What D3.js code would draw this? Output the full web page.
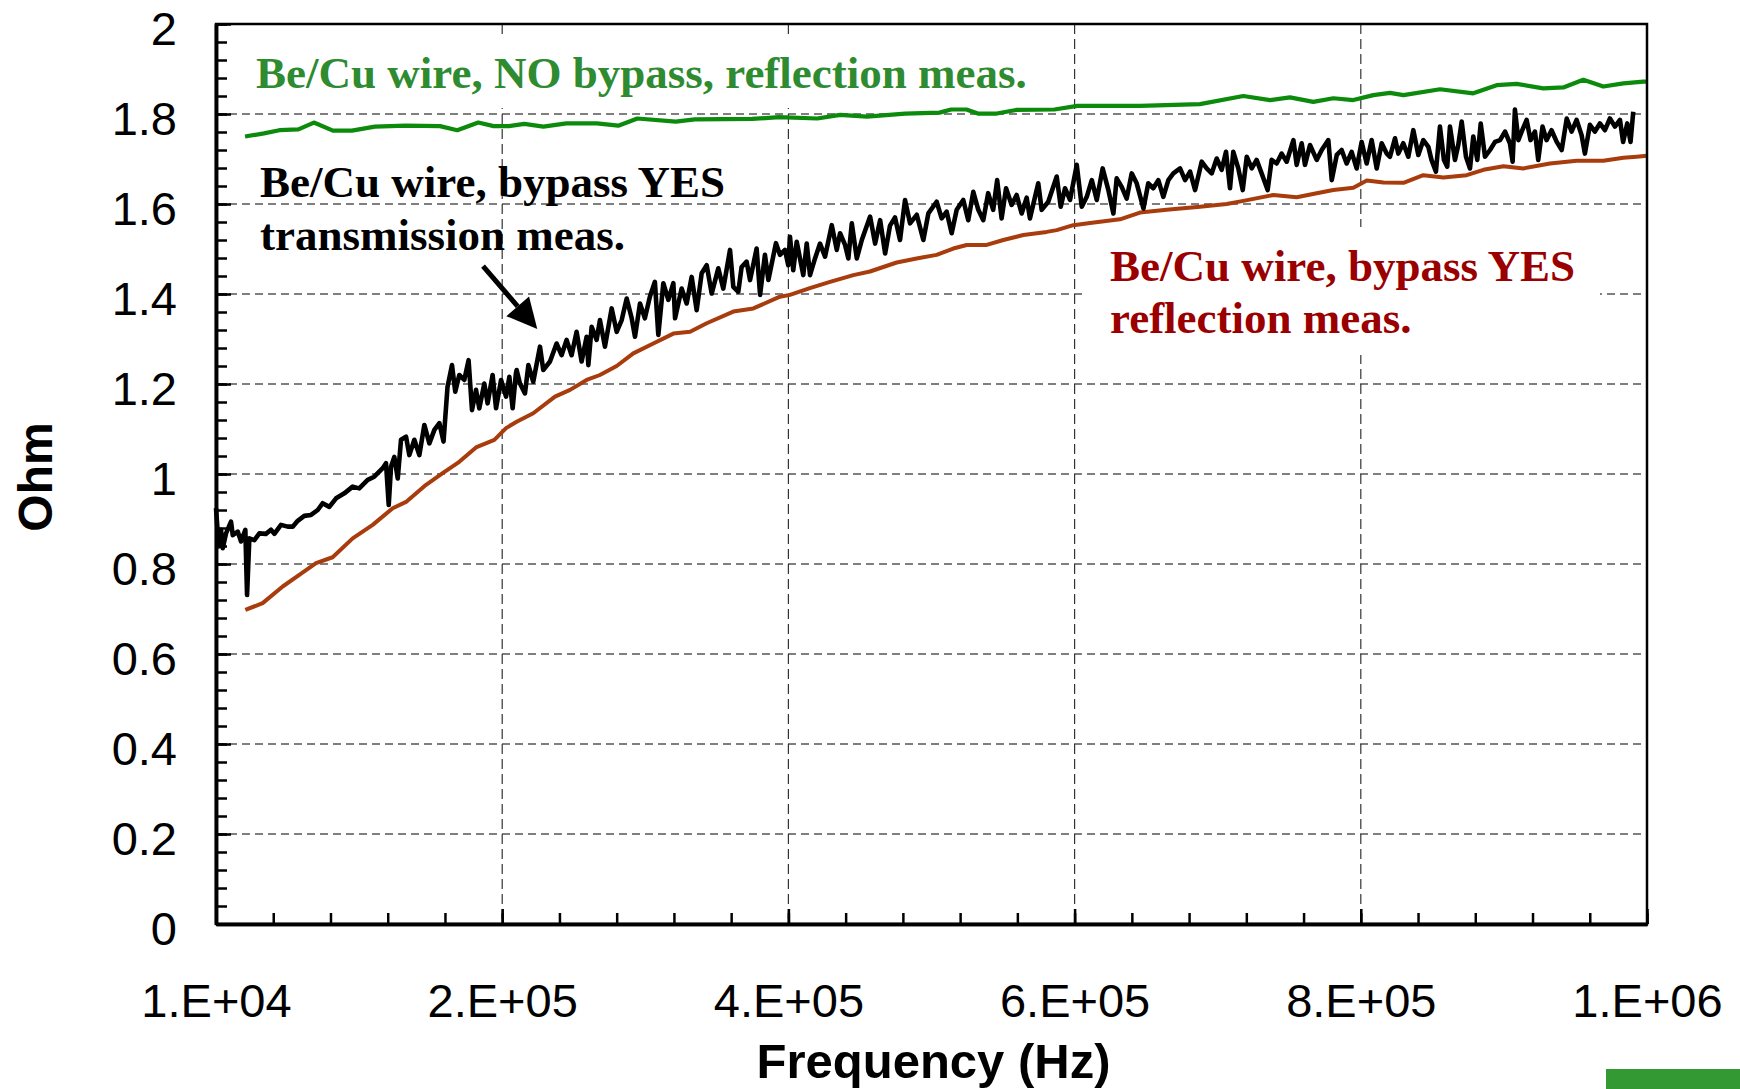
<!DOCTYPE html>
<html>
<head>
<meta charset="utf-8">
<script src="https://cdn.jsdelivr.net/npm/d3@7"></script>
<style>
  body { margin: 0; background: #fff; }
  svg { display: block; }
</style>
</head>
<body>
<div id="chart"></div>
<script>
// Frequency in kHz, impedance in Ohm
var transmissionYes = [
  [10.0,0.924],[11.9,0.839],[13.5,0.876],[14.7,0.835],[17.0,0.868],[20.5,0.894],[21.7,0.864],[25.2,0.872],
  [27.5,0.850],[30.5,0.876],[31.7,0.731],[33.3,0.857],[36.8,0.853],[40.3,0.868],[44.9,0.867],[48.4,0.876],
  [50.8,0.867],[55.4,0.887],[60.1,0.883],[63.6,0.883],[67.1,0.896],[71.7,0.907],[76.4,0.909],[81.1,0.920],
  [84.5,0.935],[89.2,0.927],[93.9,0.946],[99.7,0.957],[105.5,0.972],[110.1,0.968],[116.0,0.987],[120.6,0.994],
  [126.5,1.013],[128.8,1.024],[130.7,0.931],[132.3,1.016],[134.6,1.038],[137.0,0.990],[139.3,1.076],[142.8,1.083],
  [145.1,1.042],[148.6,1.076],[152.1,1.042],[155.6,1.109],[159.1,1.068],[162.6,1.098],[166.1,1.113],[169.0,1.072],
  [171.8,1.194],[174.9,1.242],[177.2,1.183],[180.0,1.220],[183.5,1.209],[186.5,1.253],[188.9,1.142],[191.7,1.187],
  [194.0,1.146],[197.5,1.201],[199.8,1.157],[203.3,1.220],[205.7,1.146],[209.2,1.209],[212.7,1.172],[215.0,1.216],
  [217.3,1.146],[219.6,1.224],[220.1,1.231],[222.4,1.201],[225.9,1.179],[228.3,1.242],[231.7,1.205],[236.4,1.283],
  [238.7,1.231],[243.4,1.250],[248.0,1.290],[251.5,1.264],[255.0,1.298],[258.5,1.264],[262.0,1.316],[265.5,1.250],
  [269.0,1.305],[270.2,1.242],[272.5,1.327],[276.0,1.298],[278.3,1.342],[281.8,1.283],[286.5,1.368],[290.0,1.316],
  [293.5,1.342],[297.0,1.390],[300.5,1.346],[302.8,1.305],[306.3,1.379],[309.7,1.346],[313.2,1.394],[316.7,1.427],
  [319.1,1.309],[322.6,1.424],[326.1,1.387],[329.6,1.424],[330.8,1.346],[335.4,1.412],[338.9,1.379],[342.4,1.438],
  [345.9,1.364],[349.4,1.446],[352.9,1.464],[356.4,1.401],[361.0,1.457],[364.5,1.412],[369.2,1.498],[371.5,1.416],
  [375.0,1.405],[377.3,1.460],[380.8,1.472],[383.2,1.431],[387.8,1.501],[390.2,1.398],[393.6,1.487],[396.0,1.431],
  [401.3,1.513],[404.1,1.487],[407.6,1.498],[409.9,1.464],[411.1,1.527],[413.4,1.453],[415.8,1.516],[420.4,1.442],
  [422.8,1.512],[425.1,1.442],[428.6,1.479],[432.1,1.512],[435.6,1.483],[440.3,1.553],[443.8,1.498],[446.1,1.535],
  [449.6,1.509],[451.9,1.479],[454.3,1.557],[457.8,1.479],[461.3,1.520],[467.1,1.572],[470.6,1.512],[474.1,1.564],
  [477.6,1.490],[481.0,1.552],[484.5,1.570],[488.0,1.520],[491.5,1.609],[495.0,1.557],[499.7,1.576],[504.3,1.520],
  [507.8,1.579],[513.6,1.605],[517.1,1.568],[520.6,1.583],[524.1,1.535],[527.6,1.587],[532.2,1.609],[535.7,1.564],
  [539.2,1.627],[542.7,1.587],[546.2,1.564],[549.6,1.624],[553.1,1.587],[555.9,1.653],[559.0,1.568],[562.1,1.635],
  [566.0,1.598],[569.5,1.620],[573.0,1.579],[576.5,1.614],[578.8,1.568],[584.6,1.646],[587.0,1.587],[591.6,1.605],
  [597.5,1.661],[600.3,1.594],[603.3,1.635],[606.8,1.609],[611.5,1.687],[615.0,1.594],[618.5,1.616],[622.0,1.653],
  [625.5,1.609],[629.6,1.679],[633.6,1.631],[637.1,1.579],[639.4,1.657],[642.9,1.638],[646.4,1.612],[649.9,1.668],
  [653.4,1.646],[658.1,1.590],[661.5,1.646],[665.0,1.635],[668.5,1.653],[672.0,1.616],[675.5,1.653],[679.0,1.668],
  [683.7,1.679],[687.2,1.653],[690.7,1.672],[694.2,1.631],[698.8,1.694],[702.3,1.679],[705.8,1.668],[709.3,1.701],
  [712.8,1.676],[715.8,1.716],[718.6,1.635],[720.9,1.716],[724.4,1.679],[727.5,1.631],[730.3,1.705],[733.8,1.679],
  [737.2,1.698],[740.7,1.668],[744.9,1.631],[747.7,1.698],[751.2,1.690],[754.7,1.712],[758.2,1.694],[762.9,1.742],
  [765.2,1.687],[768.7,1.735],[771.0,1.687],[774.5,1.731],[779.2,1.698],[782.7,1.720],[787.3,1.742],[789.7,1.653],
  [793.2,1.709],[796.6,1.720],[800.1,1.690],[803.6,1.716],[807.1,1.679],[810.6,1.738],[814.1,1.690],[817.6,1.742],
  [821.1,1.679],[824.6,1.735],[828.1,1.712],[830.4,1.705],[833.9,1.746],[836.2,1.712],[839.7,1.735],[843.2,1.705],
  [846.7,1.764],[850.2,1.709],[853.7,1.742],[857.2,1.727],[859.4,1.698],[862.5,1.672],[865.3,1.772],[868.1,1.698],
  [870.4,1.683],[872.3,1.772],[875.8,1.698],[878.1,1.731],[880.5,1.783],[883.5,1.705],[886.3,1.679],[888.6,1.750],
  [891.4,1.698],[893.8,1.779],[896.8,1.705],[900.3,1.720],[903.8,1.738],[907.3,1.742],[910.8,1.761],[914.2,1.735],
  [916.1,1.694],[917.7,1.810],[920.1,1.742],[922.4,1.761],[925.9,1.787],[928.6,1.742],[931.7,1.761],[934.0,1.698],
  [937.0,1.772],[939.8,1.742],[943.3,1.764],[946.9,1.738],[950.4,1.720],[953.9,1.790],[957.3,1.761],[960.8,1.787],
  [964.3,1.753],[966.6,1.712],[970.1,1.776],[973.6,1.761],[977.1,1.779],[980.6,1.764],[984.1,1.790],[987.6,1.772],
  [991.1,1.787],[993.3,1.738],[996.2,1.779],[998.5,1.738],[1000.4,1.805]
];

var reflectionYes = [
  [30.5,0.698],[42.6,0.713],[56.6,0.750],[68.2,0.776],[79.9,0.802],[91.5,0.815],[105.5,0.857],[119.5,0.887],
  [133.5,0.924],[142.8,0.938],[156.8,0.976],[168.4,1.002],[180.0,1.027],[191.7,1.059],[204.5,1.076],[212.7,1.102],
  [220.1,1.116],[231.7,1.135],[246.9,1.172],[257.4,1.187],[269.0,1.209],[278.3,1.220],[290.0,1.240],[301.6,1.268],
  [315.6,1.290],[329.6,1.312],[341.3,1.316],[352.9,1.335],[371.5,1.361],[385.5,1.368],[404.1,1.394],[411.1,1.398],
  [425.0,1.413],[439.1,1.427],[455.4,1.442],[467.0,1.450],[485.7,1.470],[499.6,1.479],[513.6,1.487],[525.2,1.501],
  [534.6,1.509],[548.6,1.509],[560.2,1.520],[574.2,1.531],[590.5,1.538],[597.5,1.542],[609.1,1.553],[620.8,1.558],
  [641.7,1.566],[655.7,1.581],[674.3,1.587],[697.6,1.594],[716.3,1.600],[727.9,1.607],[748.9,1.620],[765.2,1.615],
  [779.2,1.624],[790.8,1.631],[804.8,1.636],[814.2,1.652],[825.8,1.648],[839.8,1.647],[853.7,1.664],[867.7,1.659],
  [884.0,1.664],[895.7,1.676],[909.7,1.684],[923.6,1.679],[942.2,1.690],[960.9,1.696],[979.5,1.696],[993.5,1.703],
  [1002.8,1.705],[1010.0,1.707]
];

var reflectionNo = [
  [30.3,1.750],[43.5,1.757],[54.3,1.764],[67.6,1.766],[78.4,1.781],[91.7,1.763],[105.0,1.763],[121.0,1.772],
  [142.6,1.774],[166.5,1.773],[178.6,1.764],[193.3,1.781],[204.0,1.773],[214.7,1.773],[225.4,1.778],[238.8,1.772],
  [254.8,1.779],[276.2,1.779],[291.1,1.774],[304.5,1.790],[331.3,1.783],[344.6,1.788],[384.7,1.789],[403.4,1.793],
  [430.2,1.790],[446.2,1.798],[464.9,1.794],[491.6,1.801],[515.6,1.803],[523.7,1.810],[534.4,1.810],[542.4,1.801],
  [555.7,1.801],[569.1,1.809],[595.9,1.810],[611.9,1.818],[655.7,1.818],[697.6,1.822],[727.9,1.840],[746.6,1.831],
  [760.5,1.837],[776.8,1.827],[790.8,1.835],[804.8,1.831],[818.8,1.842],[830.4,1.847],[839.8,1.842],[865.4,1.855],
  [888.6,1.846],[904.9,1.864],[918.9,1.867],[937.5,1.857],[951.5,1.859],[965.5,1.876],[979.5,1.861],[993.5,1.868],
  [1007.5,1.872],[1010.0,1.872]
];

// Axis ticks and labels
var xTicks = [10, 210, 410, 610, 810, 1010];
var xTickLabels = ["1.E+04", "2.E+05", "4.E+05", "6.E+05", "8.E+05", "1.E+06"];
var yTicks = [0, 0.2, 0.4, 0.6, 0.8, 1, 1.2, 1.4, 1.6, 1.8, 2];
var yTickLabels = ["0", "0.2", "0.4", "0.6", "0.8", "1", "1.2", "1.4", "1.6", "1.8", "2"];

// Arrow annotation, [kHz, Ohm] from tail to tip
var arrowFrom = [196.6, 1.462];
var arrowTo = [234.5, 1.322];

function drawChart() {

    var svgWidth = 1740;
    var svgHeight = 1089;

    var margin = { top: 24, right: 93, bottom: 165, left: 216 };
    var width = svgWidth - margin.left - margin.right;
    var height = svgHeight - margin.top - margin.bottom;

    var svg = d3.select("#chart")
        .append("svg")
        .attr("width", svgWidth)
        .attr("height", svgHeight);

    var chartGroup = svg.append("g")
        .attr("transform", `translate(${margin.left}, ${margin.top})`);

    // Scales
    var xScale = d3.scaleLinear().domain([10, 1010]).range([0, width]);
    var yScale = d3.scaleLinear().domain([0, 2]).range([height, 0]);

    // Dashed grid
    chartGroup.selectAll(".hgrid")
        .data(yTicks.slice(1, -1))
        .enter()
        .append("line")
        .attr("x1", 0)
        .attr("x2", width)
        .attr("y1", d => yScale(d))
        .attr("y2", d => yScale(d))
        .attr("stroke", "#555")
        .attr("stroke-width", 1.3)
        .attr("stroke-dasharray", "8,5");

    chartGroup.selectAll(".vgrid")
        .data(xTicks.slice(1, -1))
        .enter()
        .append("line")
        .attr("x1", d => xScale(d))
        .attr("x2", d => xScale(d))
        .attr("y1", 0)
        .attr("y2", height)
        .attr("stroke", "#333")
        .attr("stroke-width", 1.2)
        .attr("stroke-dasharray", "10,5");

    // Label boxes hide the grid behind them
    chartGroup.append("rect")
        .attr("x", 34).attr("y", 12)
        .attr("width", 795).attr("height", 72)
        .attr("fill", "#fff");
    chartGroup.append("rect")
        .attr("x", 869).attr("y", 203)
        .attr("width", 515).attr("height", 128)
        .attr("fill", "#fff");

    // Curve labels
    var serif = "'Liberation Serif', 'Times New Roman', serif";
    chartGroup.append("text")
        .attr("x", 40).attr("y", 64)
        .attr("font-family", serif).attr("font-weight", "bold")
        .attr("font-size", "45px").attr("fill", "#2e8b30")
        .text("Be/Cu wire, NO bypass, reflection meas.");

    var blackLabel = chartGroup.append("text")
        .attr("font-family", serif).attr("font-weight", "bold")
        .attr("font-size", "45px").attr("fill", "#000");
    blackLabel.append("tspan").attr("x", 44).attr("y", 173).text("Be/Cu wire, bypass YES");
    blackLabel.append("tspan").attr("x", 44).attr("y", 226).text("transmission meas.");

    var redLabel = chartGroup.append("text")
        .attr("font-family", serif).attr("font-weight", "bold")
        .attr("font-size", "45px").attr("fill", "#9b0000");
    redLabel.append("tspan").attr("x", 894).attr("y", 257).text("Be/Cu wire, bypass YES");
    redLabel.append("tspan").attr("x", 894).attr("y", 309).text("reflection meas.");

    // Arrow pointing at the transmission curve
    var ax1 = xScale(arrowFrom[0]), ay1 = yScale(arrowFrom[1]);
    var ax2 = xScale(arrowTo[0]), ay2 = yScale(arrowTo[1]);
    var ang = Math.atan2(ay2 - ay1, ax2 - ax1);
    var headLen = 30, headHalf = 15;
    var bx = ax2 - headLen * Math.cos(ang), by = ay2 - headLen * Math.sin(ang);
    chartGroup.append("line")
        .attr("x1", ax1).attr("y1", ay1)
        .attr("x2", bx).attr("y2", by)
        .attr("stroke", "#000").attr("stroke-width", 5);
    chartGroup.append("polygon")
        .attr("points", [
            [ax2, ay2],
            [bx + headHalf * Math.sin(ang), by - headHalf * Math.cos(ang)],
            [bx - headHalf * Math.sin(ang), by + headHalf * Math.cos(ang)]
        ].map(p => p.join(",")).join(" "))
        .attr("fill", "#000");

    // Curves
    var line = d3.line()
        .x(d => xScale(d[0]))
        .y(d => yScale(d[1]));

    chartGroup.append("path")
        .datum(reflectionNo)
        .attr("d", line)
        .attr("fill", "none")
        .attr("stroke", "#0b8a0b")
        .attr("stroke-width", 4.2)
        .attr("stroke-linejoin", "round");

    chartGroup.append("path")
        .datum(reflectionYes)
        .attr("d", line)
        .attr("fill", "none")
        .attr("stroke", "#a83c0c")
        .attr("stroke-width", 4)
        .attr("stroke-linejoin", "round");

    chartGroup.append("path")
        .datum(transmissionYes)
        .attr("d", line)
        .attr("fill", "none")
        .attr("stroke", "#000")
        .attr("stroke-width", 4.6)
        .attr("stroke-linejoin", "round");

    // Plot frame
    chartGroup.append("rect")
        .attr("x", 0).attr("y", 0)
        .attr("width", width).attr("height", height)
        .attr("fill", "none")
        .attr("stroke", "#000")
        .attr("stroke-width", 2.5);

    // Axes, ticks pointing into the plot
    var sans = "'Liberation Sans', Arial, sans-serif";

    var bottomMinor = d3.axisBottom(xScale)
        .tickValues(d3.range(10, 1011, 40))
        .tickFormat("")
        .tickSizeInner(-11)
        .tickSizeOuter(0);
    var bottomAxis = d3.axisBottom(xScale)
        .tickValues(xTicks)
        .tickFormat((d, i) => xTickLabels[i])
        .tickSizeInner(-15)
        .tickSizeOuter(0)
        .tickPadding(60);

    var leftMinor = d3.axisLeft(yScale)
        .tickValues(d3.range(0, 2.001, 0.04))
        .tickFormat("")
        .tickSizeInner(-11)
        .tickSizeOuter(0);
    var leftAxis = d3.axisLeft(yScale)
        .tickValues(yTicks)
        .tickFormat((d, i) => yTickLabels[i])
        .tickSizeInner(-15)
        .tickSizeOuter(0)
        .tickPadding(39);

    var gx = chartGroup.append("g").attr("transform", `translate(0, ${height})`);
    gx.append("g").call(bottomMinor);
    gx.append("g").call(bottomAxis);

    var gy = chartGroup.append("g");
    gy.append("g").call(leftMinor);
    gy.append("g").call(leftAxis);

    chartGroup.selectAll(".domain")
        .attr("stroke", "#000")
        .attr("stroke-width", 3.5);
    chartGroup.selectAll(".tick line")
        .attr("stroke", "#000")
        .attr("stroke-width", 2.5);
    chartGroup.selectAll(".tick text")
        .attr("font-family", sans)
        .attr("font-size", "47px")
        .attr("fill", "#000");
    gy.selectAll(".tick text").attr("dy", "0.43em");

    // Axis titles
    chartGroup.append("text")
        .attr("transform", `translate(${width / 2 + 2}, ${height + 154})`)
        .style("text-anchor", "middle")
        .attr("font-family", sans)
        .attr("font-weight", "bold")
        .attr("font-size", "49px")
        .text("Frequency (Hz)");

    chartGroup.append("text")
        .attr("transform", `translate(-164, ${height / 2 + 3}) rotate(-90)`)
        .style("text-anchor", "middle")
        .attr("font-family", sans)
        .attr("font-weight", "bold")
        .attr("font-size", "48px")
        .text("Ohm");

    // Green corner tab at the bottom right
    svg.append("rect")
        .attr("x", 1606).attr("y", 1069)
        .attr("width", 134).attr("height", 20)
        .attr("fill", "#339933");
}

drawChart();
</script>
</body>
</html>
